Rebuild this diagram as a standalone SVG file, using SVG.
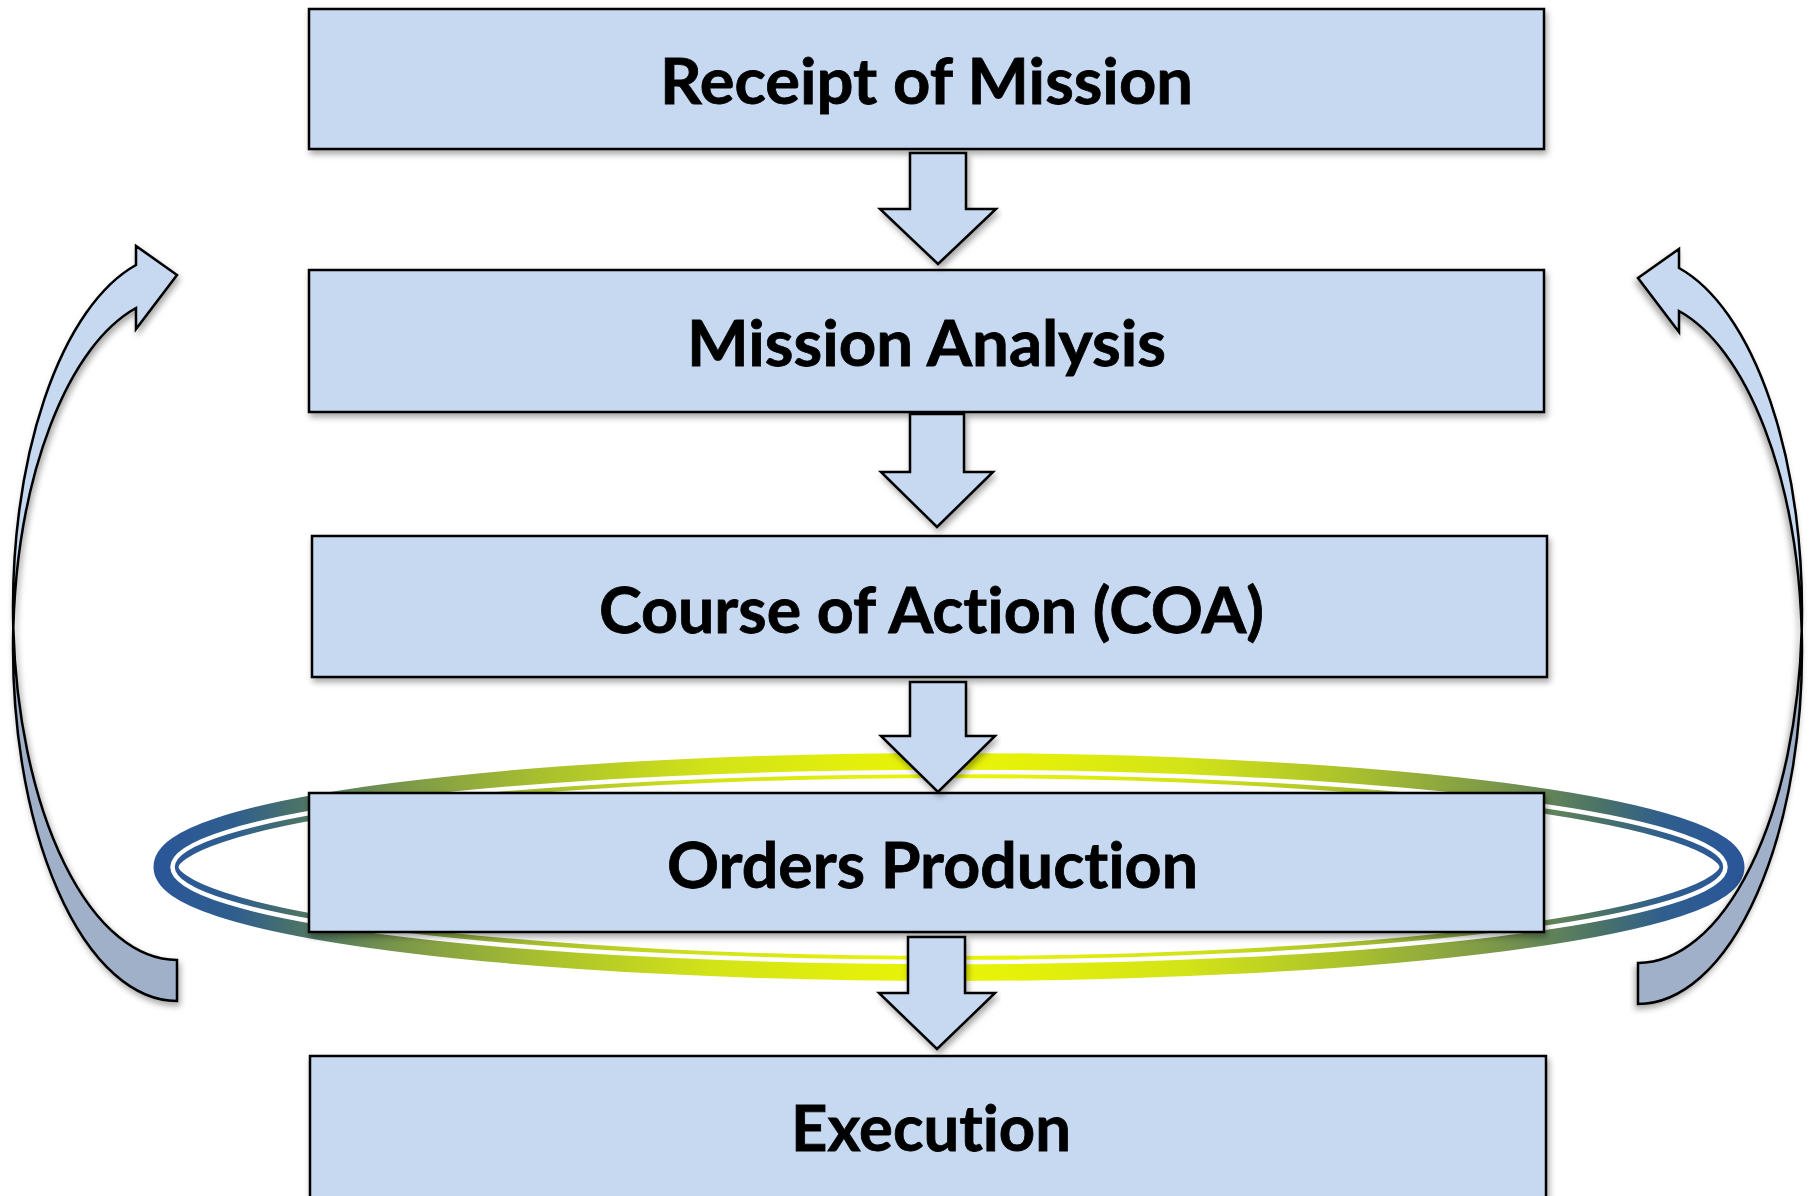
<svg xmlns="http://www.w3.org/2000/svg" width="1813" height="1196" viewBox="0 0 1813 1196">
  <style>
    .box { fill: #C6D9F1; stroke: #000; stroke-width: 2.5; }
    .lbl { font-family: Lato, "Open Sans", "Liberation Sans", sans-serif; font-weight: bold; font-size: 64px; fill: #000; stroke: #000; stroke-width: 0.8; text-anchor: middle; font-variant-ligatures: none; font-feature-settings: "liga" 0; }
    .blk { fill: #C6D9F1; stroke: #000; stroke-width: 2.5; stroke-linejoin: miter; }
    .front { fill: #C6D9F1; stroke: none; }
    .back { fill: #9FB0C8; stroke: none; }
    .outl { fill: none; stroke: #000; stroke-width: 2.5; stroke-linejoin: miter; }
  </style>
  <defs>
    <filter id="sh" x="-5%" y="-5%" width="110%" height="120%">
      <feDropShadow dx="2" dy="4" stdDeviation="3" flood-color="#000" flood-opacity="0.35"/>
    </filter>
    <linearGradient id="ringGrad" gradientUnits="userSpaceOnUse" x1="154" y1="0" x2="1744" y2="0">
      <stop offset="0" stop-color="#2A5699"/>
      <stop offset="0.05" stop-color="#2F5E8E"/>
      <stop offset="0.09" stop-color="#4A7268"/>
      <stop offset="0.16" stop-color="#7E9A48"/>
      <stop offset="0.25" stop-color="#ABC22C"/>
      <stop offset="0.35" stop-color="#D2E318"/>
      <stop offset="0.45" stop-color="#E5F00A"/>
      <stop offset="0.5" stop-color="#EAF408"/>
      <stop offset="0.55" stop-color="#E5F00A"/>
      <stop offset="0.65" stop-color="#D2E318"/>
      <stop offset="0.75" stop-color="#ABC22C"/>
      <stop offset="0.84" stop-color="#7E9A48"/>
      <stop offset="0.91" stop-color="#4A7268"/>
      <stop offset="0.95" stop-color="#2F5E8E"/>
      <stop offset="1" stop-color="#2A5699"/>
    </linearGradient>
  </defs>

  <g id="ring">
    <ellipse cx="949" cy="867" rx="783" ry="101.5" fill="none" stroke="url(#ringGrad)" stroke-width="25"/>
    <ellipse cx="949" cy="867" rx="776.5" ry="95" fill="none" stroke="#FFFFFF" stroke-width="4.5"/>
  </g>

  <g id="receipt-of-mission">
    <rect class="box" x="309" y="9" width="1235" height="140" filter="url(#sh)"/>
    <text class="lbl" x="926.5" y="104" textLength="533" lengthAdjust="spacingAndGlyphs">Receipt of Mission</text>
  </g>
  <g id="mission-analysis">
    <rect class="box" x="309" y="270" width="1235" height="142" filter="url(#sh)"/>
    <text class="lbl" x="926.5" y="366" textLength="479" lengthAdjust="spacingAndGlyphs">Mission Analysis</text>
  </g>
  <g id="course-of-action">
    <rect class="box" x="312" y="536" width="1235" height="141" filter="url(#sh)"/>
    <text class="lbl" x="931.5" y="633" textLength="665" lengthAdjust="spacingAndGlyphs">Course of Action (COA)</text>
  </g>
  <g id="orders-production">
    <rect class="box" x="309" y="793" width="1235" height="139" filter="url(#sh)"/>
    <text class="lbl" x="932.5" y="888" textLength="531" lengthAdjust="spacingAndGlyphs">Orders Production</text>
  </g>
  <g id="execution">
    <rect class="box" x="310" y="1056" width="1236" height="170" filter="url(#sh)"/>
    <text class="lbl" x="931" y="1151" textLength="280" lengthAdjust="spacingAndGlyphs">Execution</text>
  </g>

  <g id="connectors">
    <path class="blk" filter="url(#sh)" d="M910 153 L966 153 L966 209 L996 209 L938 264 L880 209 L910 209 Z"/>
    <path class="blk" filter="url(#sh)" d="M910 414 L964 414 L964 472 L993 472 L937 527 L881 472 L910 472 Z"/>
    <path class="blk" filter="url(#sh)" d="M910 682 L966 682 L966 736 L995 736 L938 792 L881 736 L910 736 Z"/>
    <path class="blk" filter="url(#sh)" d="M908 937 L965 937 L965 993 L995 993 L937 1049 L879 993 L908 993 Z"/>

    <g id="loop-left" filter="url(#sh)">
      <path class="front" d="M13.3 627.5 A164 353 0 0 1 136 265 L136 246 L177 275 L136 329 L136 308 A164 353 0 0 0 13.3 627.5 Z"/>
      <path class="back" d="M13.3 627.5 A164 353 0 0 0 177 1001 L177 960 A164 353 0 0 1 13.3 627.5 Z"/>
      <path class="outl" d="M177 1001 A164 353 0 0 1 13.3 627.5 A164 353 0 0 1 136 265 L136 246 L177 275 L136 329 L136 308 A164 353 0 0 0 13.3 627.5 A164 353 0 0 0 177 960 Z"/>
    </g>
    <g id="loop-right" filter="url(#sh)" transform="translate(1815,3) scale(-1,1)">
      <path class="front" d="M13.3 627.5 A164 353 0 0 1 136 265 L136 246 L177 275 L136 329 L136 308 A164 353 0 0 0 13.3 627.5 Z"/>
      <path class="back" d="M13.3 627.5 A164 353 0 0 0 177 1001 L177 960 A164 353 0 0 1 13.3 627.5 Z"/>
      <path class="outl" d="M177 1001 A164 353 0 0 1 13.3 627.5 A164 353 0 0 1 136 265 L136 246 L177 275 L136 329 L136 308 A164 353 0 0 0 13.3 627.5 A164 353 0 0 0 177 960 Z"/>
    </g>
  </g>
</svg>
